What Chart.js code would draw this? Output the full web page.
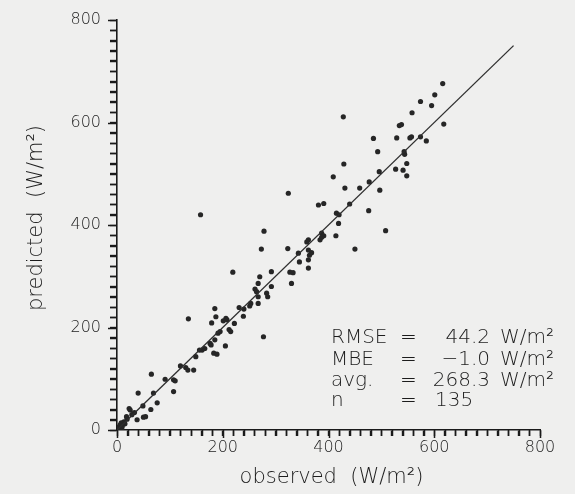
<!DOCTYPE html>
<html>
<head>
<meta charset="utf-8">
<script src="https://cdn.jsdelivr.net/npm/chart.js@4.4.1/dist/chart.umd.min.js"></script>
<style>
  html, body { margin: 0; padding: 0; background: #efefee; }
  canvas { display: block; }
</style>
</head>
<body>
<canvas id="scatterChart" width="575" height="494"></canvas>
<script>
// observed vs predicted (W/m2)
const observed = [
  6, 13, 19, 9, 0, 23, 25, 33, 38, 40, 49, 50, 54, 64, 65, 69, 76, 91, 107, 107,
  110, 120, 130, 134, 145, 149, 156, 161, 178, 183, 189, 191, 195, 205, 18, 158, 278, 219, 135, 277,
  185, 187, 179, 273, 323, 343, 362, 362, 362, 345, 270, 292, 327, 333, 330, 267, 261, 264, 292, 283,
  285, 267, 267, 253, 251, 231, 206, 208, 201, 239, 222, 212, 215, 185, 176, 166, 429, 409, 431, 324,
  381, 391, 459, 477, 496, 497, 440, 476, 508, 415, 420, 419, 414, 450, 387, 391, 384, 387, 362, 368,
  601, 574, 595, 558, 618, 534, 485, 529, 554, 557, 574, 585, 493, 543, 544, 548, 527, 541, 548, 616,
  428, 364, 359, 3, 10, 15, 28, 538, 240, 2, 8
];
const predicted = [
  10, 16, 21, 3, 5, 42, 39, 34, 20, 72, 47, 25, 26, 40, 109, 72, 53, 99, 75, 98,
  96, 125, 122, 117, 117, 143, 156, 156, 166, 150, 148, 189, 192, 164, 26, 420, 388, 308, 217, 182,
  237, 221, 209, 353, 354, 345, 351, 332, 316, 328, 299, 309, 308, 307, 286, 286, 275, 270, 280, 267,
  260, 260, 247, 247, 242, 239, 218, 215, 213, 222, 208, 196, 192, 176, 169, 159, 519, 494, 472, 462,
  439, 442, 472, 484, 504, 468, 441, 428, 389, 423, 420, 403, 379, 353, 384, 379, 371, 376, 371, 346,
  654, 641, 633, 619, 597, 594, 569, 570, 570, 572, 572, 564, 543, 543, 538, 520, 509, 507, 496, 676,
  611, 341, 367, 0, 8, 12, 30, 596, 236, 2, 14
];

// 1:1 line end points
const oneToOneX = [0, 750];

// axes
const axisMin = 0;
const axisMax = 800;
const minorStep = 20;
const majorStep = 200;

// statistics box
const statNames = ["RMSE", "MBE", "avg.", "n"];
const statValues = ["44.2", "\u22121.0", "268.3", "135"];
const statUnits = ["W/m\u00b2", "W/m\u00b2", "W/m\u00b2", ""];

const ink = "#1a1a1a";
const textInk = "#1c1c1c";
const FONT = '"DejaVu Sans", sans-serif';

const points = observed.map((o, i) => ({ x: o, y: predicted[i] }));
const linePoints = oneToOneX.map((v) => ({ x: v, y: v }));

// fundo, marcas dos eixos e textos
const decorPlugin = {
  id: "decor",
  beforeDraw(chart) {
    const ctx = chart.ctx;
    ctx.save();
    ctx.fillStyle = "#efefee";
    ctx.fillRect(0, 0, chart.width, chart.height);
    ctx.restore();
  },
  afterDraw(chart) {
    const ctx = chart.ctx;
    const area = chart.chartArea;
    const xs = chart.scales.x;
    const ys = chart.scales.y;
    ctx.save();

    // marcas (pente) ao longo dos eixos, uma a cada 20 W/m2
    ctx.strokeStyle = ink;
    ctx.lineWidth = 1.5;
    for (let v = axisMin; v <= axisMax; v += minorStep) {
      const major = v % majorStep === 0;
      const px = Math.round(xs.getPixelForValue(v)) + 0.5;
      ctx.beginPath();
      ctx.moveTo(px, area.bottom);
      ctx.lineTo(px, area.bottom + (major ? 8 : 6));
      ctx.stroke();
      const py = Math.round(ys.getPixelForValue(v)) + 0.5;
      ctx.beginPath();
      ctx.moveTo(area.left, py);
      ctx.lineTo(area.left - (major ? 9 : 7), py);
      ctx.stroke();
    }

    ctx.fillStyle = textInk;

    // x title
    ctx.font = "300 21px " + FONT;
    ctx.textAlign = "center";
    ctx.textBaseline = "middle";
    ctx.fillText("observed  (W/m\u00b2)", (area.left + area.right) / 2 + 3, 478);

    // y title
    ctx.translate(37, (area.top + area.bottom) / 2 - 7);
    ctx.rotate(-Math.PI / 2);
    ctx.fillText("predicted  (W/m\u00b2)", 0, 0);
    ctx.setTransform(1, 0, 0, 1, 0, 0);

    // stats
    ctx.font = "300 20px " + FONT;
    ctx.textBaseline = "alphabetic";
    const baselines = [343, 365, 386, 406];
    statNames.forEach((name, i) => {
      const y = baselines[i];
      ctx.textAlign = "left";
      ctx.fillText(name, 331, y);
      ctx.fillText("=", 400, y);
      if (i < 3) {
        ctx.textAlign = "right";
        ctx.fillText(statValues[i], 490, y);
      } else {
        ctx.textAlign = "left";
        ctx.fillText(statValues[i], 435, y);
      }
      ctx.textAlign = "left";
      if (statUnits[i]) ctx.fillText(statUnits[i], 500, y);
    });
    ctx.restore();
  },
};

const tickLabel = (v) => (v % majorStep === 0 ? String(v) : "");

new Chart(document.getElementById("scatterChart"), {
  type: "scatter",
  data: {
    datasets: [
      {
        label: "1:1",
        type: "line",
        data: linePoints,
        borderColor: "#2e2e2e",
        borderWidth: 1.3,
        pointRadius: 0,
        fill: false,
      },
      {
        label: "data",
        data: points,
        pointRadius: 2.6,
        pointBackgroundColor: "#262626",
        pointBorderWidth: 0,
      },
    ],
  },
  options: {
    responsive: false,
    animation: false,
    layout: { padding: { top: 20, right: 35, left: 0, bottom: 0 } },
    plugins: {
      legend: { display: false },
      tooltip: { enabled: false },
    },
    scales: {
      x: {
        type: "linear",
        min: axisMin,
        max: axisMax,
        afterFit: (s) => { s.height = 64; },
        border: { display: true, color: ink, width: 1.6 },
        grid: { drawOnChartArea: false, tickLength: 6, tickColor: ink, tickWidth: 1.4 },
        ticks: {
          stepSize: minorStep,
          autoSkip: false,
          maxRotation: 0,
          padding: 2,
          color: textInk,
          font: { family: FONT, size: 16, weight: "300" },
          callback: tickLabel,
        },
      },
      y: {
        type: "linear",
        min: axisMin,
        max: axisMax,
        afterFit: (s) => { s.width = 117; },
        border: { display: true, color: ink, width: 1.6 },
        grid: { drawOnChartArea: false, tickLength: 7, tickColor: ink, tickWidth: 1.4 },
        ticks: {
          stepSize: minorStep,
          autoSkip: false,
          padding: 9,
          color: textInk,
          font: { family: FONT, size: 16, weight: "300" },
          callback: tickLabel,
        },
      },
    },
  },
  plugins: [decorPlugin],
});
</script>
</body>
</html>
